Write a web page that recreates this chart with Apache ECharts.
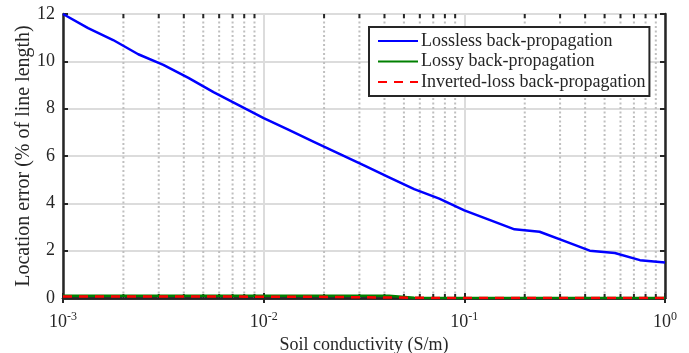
<!DOCTYPE html>
<html>
<head>
<meta charset="utf-8">
<script src="https://cdn.jsdelivr.net/npm/echarts@6/dist/echarts.min.js"></script>
<style>
  html, body { margin: 0; padding: 0; background: #fff; }
  #chart { width: 689px; height: 353px; }
</style>
</head>
<body>
<div id="chart"></div>
<script>
// soil conductivity samples (S/m)
const conductivity = [0.001, 0.001334, 0.001778, 0.002371, 0.003162, 0.004217, 0.005623, 0.007499,
  0.01, 0.01334, 0.01778, 0.02371, 0.03162, 0.04217, 0.05623, 0.07499,
  0.1, 0.1334, 0.1778, 0.2371, 0.3162, 0.4217, 0.5623, 0.7499, 1];
const lossless = [12.0, 11.4, 10.9, 10.3, 9.85, 9.3, 8.7, 8.15,
  7.6, 7.1, 6.6, 6.1, 5.6, 5.1, 4.6, 4.2,
  3.7, 3.3, 2.9, 2.8, 2.4, 2.0, 1.9, 1.6, 1.5];
const lossy = [0.1, 0.1, 0.1, 0.1, 0.1, 0.1, 0.1, 0.1,
  0.1, 0.1, 0.1, 0.1, 0.1, 0.09, 0.01, 0,
  0, 0, 0, 0, 0, 0, 0, 0, 0];
const invertedLoss = [0.06, 0.06, 0.06, 0.06, 0.06, 0.06, 0.06, 0.06,
  0.05, 0.05, 0.05, 0.04, 0.03, 0.02, 0.01, 0,
  0, 0, 0, 0, 0, 0, 0, 0, 0];
const minorX = [0.002, 0.003, 0.004, 0.005, 0.006, 0.007, 0.008, 0.009,
  0.02, 0.03, 0.04, 0.05, 0.06, 0.07, 0.08, 0.09,
  0.2, 0.3, 0.4, 0.5, 0.6, 0.7, 0.8, 0.9];
const seriesNames = ['Lossless back-propagation', 'Lossy back-propagation', 'Inverted-loss back-propagation'];

const FONT = '"Liberation Serif", "Times New Roman", serif';
const AXIS = '#262626';
const TEXT = '#262626';
const chart = echarts.init(document.getElementById('chart'));

const pairs = (ys) => conductivity.map((x, i) => [x, ys[i]]);

const xBase = {
  type: 'log', logBase: 10, min: 0.001, max: 1,
  axisLine: { show: true, lineStyle: { color: AXIS, width: 2.5 } },
  axisTick: { show: true, inside: true, length: 5, lineStyle: { color: AXIS, width: 2 } },
  minorTick: { show: false },
};
const yBase = {
  type: 'value', min: 0, max: 12, interval: 2,
  axisLine: { show: true, lineStyle: { color: AXIS, width: 2.5 } },
  axisTick: { show: true, inside: true, length: 5, lineStyle: { color: AXIS, width: 2 } },
};

chart.setOption({
  animation: false,
  textStyle: { fontFamily: FONT },
  grid: { left: 63, right: 24, top: 14, bottom: 55, outerBoundsMode: 'none' },
  legend: {
    data: seriesNames,
    orient: 'vertical',
    left: 369, top: 27,
    itemWidth: 40, itemHeight: 14, itemGap: 0.5,
    padding: [4, 4, 4, 8],
    borderColor: AXIS, borderWidth: 2,
    backgroundColor: '#fff',
    itemStyle: { opacity: 0 },
    textStyle: { fontFamily: FONT, fontSize: 18, lineHeight: 20, color: TEXT, padding: [0, 0, 0, -2] },
  },
  xAxis: [
    Object.assign({}, xBase, {
      position: 'bottom',
      name: 'Soil conductivity (S/m)', nameLocation: 'middle', nameGap: 37,
      nameTextStyle: { fontFamily: FONT, fontSize: 18, color: TEXT },
      axisLabel: {
        margin: 13,
        formatter: (v) => '{b|10}{s|' + Math.round(Math.log10(v)) + '}',
        rich: {
          b: { fontFamily: FONT, fontSize: 18, color: TEXT },
          s: { fontFamily: FONT, fontSize: 12, color: TEXT, padding: [0, 0, 10, 0] },
        },
      },
      splitLine: { show: true, lineStyle: { color: '#dcdcdc', width: 2 } },
    }),
    Object.assign({}, xBase, {
      position: 'top',
      axisLabel: { show: false },
      splitLine: { show: false },
    }),
  ],
  yAxis: [
    Object.assign({}, yBase, {
      position: 'left',
      name: 'Location error (% of line length)', nameLocation: 'middle', nameGap: 29,
      nameMoveOverlap: false,
      nameTextStyle: { fontFamily: FONT, fontSize: 20, color: TEXT },
      axisLabel: { fontFamily: FONT, fontSize: 18, color: TEXT, margin: 8 },
      splitLine: { show: true, lineStyle: { color: '#dcdcdc', width: 2 } },
    }),
    Object.assign({}, yBase, {
      position: 'right',
      axisLabel: { show: false },
      splitLine: { show: false },
    }),
  ],
  series: [
    {
      type: 'custom',
      name: 'minor',
      silent: true,
      z: 1,
      data: minorX.map((v) => [v]),
      encode: { x: 0 },
      renderItem: (params, api) => {
        const x = api.value(0);
        const bot = api.coord([x, 0]);
        const top = api.coord([x, 12]);
        return {
          type: 'group',
          children: [
            { type: 'line', shape: { x1: bot[0], y1: bot[1], x2: top[0], y2: top[1] },
              style: { stroke: '#bfbfbf', lineWidth: 2, lineDash: [2, 2.5] } },
            { type: 'line', shape: { x1: bot[0], y1: bot[1], x2: bot[0], y2: bot[1] - 4 },
              style: { stroke: AXIS, lineWidth: 2 } },
            { type: 'line', shape: { x1: top[0], y1: top[1], x2: top[0], y2: top[1] + 4 },
              style: { stroke: AXIS, lineWidth: 2 } },
          ],
        };
      },
    },
    {
      type: 'line', name: seriesNames[0], data: pairs(lossless),
      showSymbol: false, symbol: 'none', z: 3,
      itemStyle: { color: '#0000ff' },
      lineStyle: { color: '#0000ff', width: 2.5 },
    },
    {
      type: 'line', name: seriesNames[1], data: pairs(lossy),
      showSymbol: false, symbol: 'none', z: 4,
      itemStyle: { color: '#008000' },
      lineStyle: { color: '#008000', width: 2.5 },
    },
    {
      type: 'line', name: seriesNames[2], data: pairs(invertedLoss),
      showSymbol: false, symbol: 'none', z: 5,
      itemStyle: { color: '#ff0000' },
      lineStyle: { color: '#ff0000', width: 2.5, type: [9, 7] },
    },
  ],
});
</script>
</body>
</html>
